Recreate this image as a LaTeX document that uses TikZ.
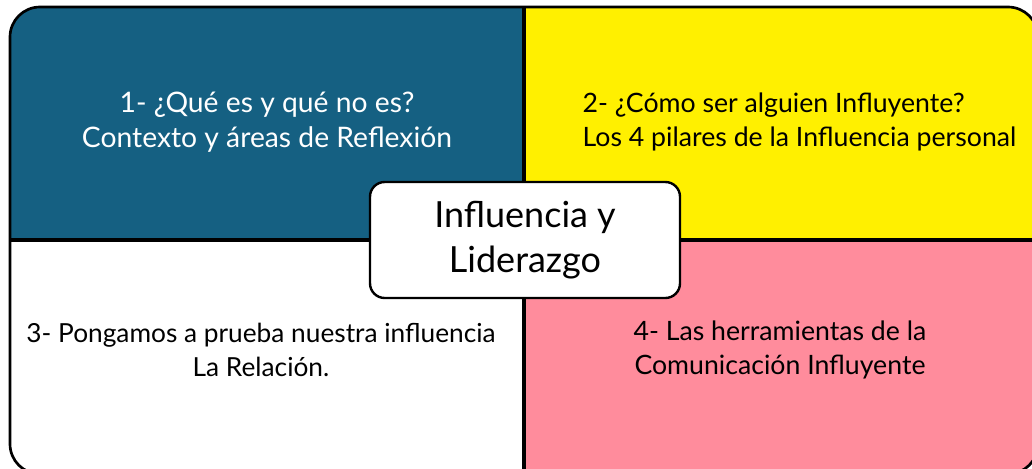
\documentclass[tikz,border=0pt]{standalone}
\usepackage{fontspec}
\setmainfont{Lato}
\usetikzlibrary{positioning}
\definecolor{quadblue}{HTML}{156082}
\definecolor{quadyellow}{HTML}{FFF000}
\definecolor{quadpink}{HTML}{FF8C9C}

\begin{document}
\begin{tikzpicture}[x=0.75pt,y=-0.75pt]
            \useasboundingbox (0,0) rectangle (1032,468);

            % quadrants
            \begin{scope}
                \clip [rounded corners=22.5pt] (10,7) rectangle (1038,474);
                \fill [quadblue] (10,7) rectangle (524,240);
                \fill [quadyellow] (524,7) rectangle (1038,240);
                \fill [white] (10,240) rectangle (524,474);
                \fill [quadpink] (524,240) rectangle (1038,474);
            \end{scope}
            \draw [line width=2pt,rounded corners=22.5pt] (10,7) rectangle (1038,474);
            \draw [line width=2.5pt] (524,7) -- (524,474);
            \draw [line width=2.5pt] (10,240) -- (1038,240);

            \begin{scope}[every node/.style={font=\fontsize{20}{26}\selectfont,align=center}]
                \node [text=white,font=\fontsize{21.2}{26}\selectfont] (q1) at (267,122) {1- ¿Qué es y qué no es?\\Contexto y áreas de Reflexión};
                \node [align=left,anchor=west] (q2) at (578,122) {2- ¿Cómo ser alguien Influyente?\\Los 4 pilares de la Influencia personal};
                \node [font=\fontsize{19.7}{26}\selectfont] (q3) at (261,350) {3- Pongamos a prueba nuestra influencia\\La Relación.};
                \node (q4) at (780,350) {4- Las herramientas de la\\Comunicación Influyente};
            \end{scope}

            \node [draw=black,line width=1.8pt,fill=white,rounded corners=11pt,
                minimum width=232.5pt,minimum height=87pt,align=center,
                font=\fontsize{27}{34}\selectfont] (hub) at (525,240) {Influencia y\\Liderazgo};
        \end{tikzpicture}
\end{document}
